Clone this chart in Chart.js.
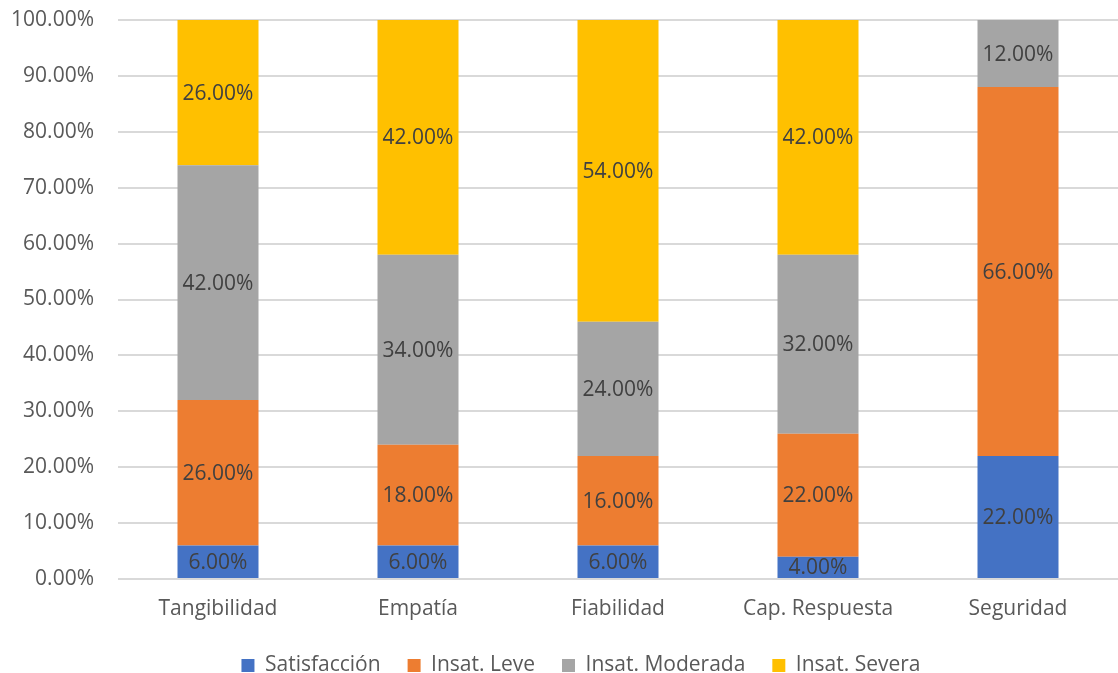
<!DOCTYPE html>
<html>
<head>
<meta charset="utf-8">
<script src="https://cdn.jsdelivr.net/npm/chart.js@4"></script>
<style>
  html, body { margin: 0; padding: 0; background: #ffffff; }
  #wrap { width: 1118px; height: 673px; }
</style>
</head>
<body>
<div id="wrap"><canvas id="c" width="1118" height="673"></canvas></div>
<script>
// Dimensions of service quality
const categories = ['Tangibilidad', 'Empatía', 'Fiabilidad', 'Cap. Respuesta', 'Seguridad'];

// Share of respondents per satisfaction level (%)
const satisfaccion    = [6, 6, 6, 4, 22];
const insatLeve       = [26, 18, 16, 22, 66];
const insatModerada   = [42, 34, 24, 32, 12];
const insatSevera     = [26, 42, 54, 42, 0];

const seriesNames  = ['Satisfacción', 'Insat. Leve', 'Insat. Moderada', 'Insat. Severa'];
const seriesColors = ['#4472C4', '#ED7D31', '#A5A5A5', '#FFC000'];

const FONT = '"Open Sans", sans-serif';
const FSIZE = 21;

// Writes each segment's value in the middle of its bar piece
const segmentLabels = {
  id: 'segmentLabels',
  afterDatasetsDraw(chart) {
    const ctx = chart.ctx;
    ctx.save();
    ctx.font = FSIZE + 'px ' + FONT;
    ctx.fillStyle = '#404040';
    ctx.textAlign = 'center';
    ctx.textBaseline = 'middle';
    chart.data.datasets.forEach((ds, i) => {
      const meta = chart.getDatasetMeta(i);
      meta.data.forEach((bar, j) => {
        const v = ds.data[j];
        if (!v) return;
        const p = bar.getProps(['x', 'y', 'base'], true);
        ctx.fillText(v.toFixed(2) + '%', p.x, (p.y + p.base) / 2 + 1);
      });
    });
    ctx.restore();
  }
};

// Nudges the legend row a little to the right of the canvas centre
const legendOffset = {
  id: 'legendOffset',
  afterLayout(chart) {
    if (chart.legend) chart.legend.left += 44;
  }
};

const values = [satisfaccion, insatLeve, insatModerada, insatSevera];

new Chart(document.getElementById('c'), {
  type: 'bar',
  data: {
    labels: categories,
    datasets: values.map((d, i) => ({
      label: seriesNames[i],
      data: d,
      backgroundColor: seriesColors[i],
      borderWidth: 0,
      categoryPercentage: 1,
      barPercentage: 0.405
    }))
  },
  options: {
    responsive: false,
    animation: false,
    devicePixelRatio: 1,
    layout: { padding: { top: 20, right: 0, bottom: -13, left: 0 } },
    plugins: {
      legend: {
        position: 'bottom',
        labels: {
          boxWidth: 13,
          boxHeight: 13,
          padding: 27,
          color: '#595959',
          font: { family: FONT, size: FSIZE }
        }
      },
      tooltip: { enabled: false }
    },
    scales: {
      x: {
        stacked: true,
        grid: { display: false, drawTicks: false },
        border: { display: false },
        ticks: { color: '#595959', padding: 17, font: { family: FONT, size: FSIZE } },
        afterFit(s) { s.height = 49; }
      },
      y: {
        stacked: true,
        min: 0,
        max: 100,
        grid: { color: '#d9d9d9', lineWidth: 2, drawTicks: false },
        border: { display: false },
        ticks: {
          stepSize: 10,
          color: '#595959',
          padding: 24,
          font: { family: FONT, size: FSIZE },
          callback: v => v.toFixed(2) + '%'
        },
        afterFit(s) { s.width = 118; s.paddingTop = 0; s.paddingBottom = 0; }
      }
    }
  },
  plugins: [segmentLabels, legendOffset]
});
</script>
</body>
</html>
